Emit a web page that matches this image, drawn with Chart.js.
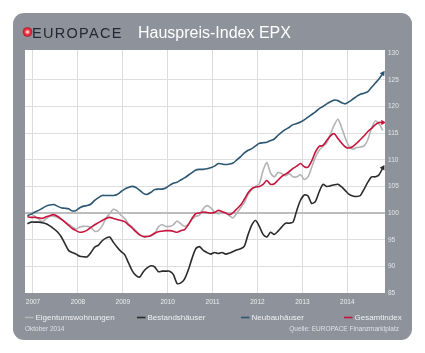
<!DOCTYPE html>
<html>
<head>
<meta charset="utf-8">
<script src="https://cdn.jsdelivr.net/npm/chart.js@4"></script>
<style>
  html, body { margin: 0; padding: 0; background: #fff; }
  canvas { display: block; }
</style>
</head>
<body>
<canvas id="epxChart" width="425" height="353"></canvas>
<script>
// monthly values, Nov 2006 .. Oct 2014
const firstYear = 2006;
const firstMonth = 11;
const monthCount = 96;

const eigentumswohnungen = [
  100.1, 99.8, 99.4, 98.9, 98.4, 98.9, 99.4, 99.4, 99.2, 98.8, 98.4, 97.9,
  97.4, 97.0, 97.4, 97.5, 97.5, 97.3, 96.6, 96.7, 97.6, 99.0, 99.9, 100.7,
  100.4, 99.6, 99.0, 98.0, 97.4, 96.7, 96.0, 95.6, 95.6, 95.7, 96.1, 97.4,
  97.8, 97.5, 97.5, 97.8, 98.5, 98.0, 97.5, 97.9, 98.8, 99.4, 99.6, 100.8,
  101.4, 101.0, 100.2, 99.9, 100.0, 100.0, 99.5, 99.1, 100.0, 101.0, 102.0, 103.5,
  104.4, 105.0, 105.5, 108.0, 109.5, 107.5, 106.8, 107.6, 107.4, 107.0, 107.4, 106.8,
  106.8, 107.2, 106.3, 106.8, 108.6, 110.5, 111.8, 112.5, 113.2, 114.8, 116.5, 117.6,
  116.0, 114.0, 112.5, 112.0, 112.3, 112.4, 112.6, 113.8, 116.0, 117.3, 116.7, 115.5
];

const bestandshaeuser = [
  98.0, 98.3, 98.3, 98.3, 98.2, 98.0, 97.6, 97.1, 96.5, 95.6, 94.3, 93.0,
  92.6, 92.3, 91.9, 91.8, 91.8, 92.6, 93.6, 94.0, 94.8, 95.3, 95.5, 94.5,
  93.6, 92.8, 92.2, 90.7, 89.2, 88.3, 88.0, 89.0, 89.7, 90.1, 89.9, 89.0,
  89.1, 89.1, 89.1, 88.5, 86.8, 86.9, 87.6, 89.3, 91.5, 93.3, 93.7, 93.0,
  92.6, 92.3, 92.6, 92.4, 92.6, 92.3, 92.5, 92.8, 93.1, 93.3, 93.8, 96.0,
  97.8, 98.6, 97.5, 96.0, 95.5, 96.4, 96.0, 96.6, 97.4, 98.1, 98.1, 98.3,
  100.5, 102.4, 103.4, 103.2, 101.8, 102.2, 104.0, 105.4, 105.0, 105.1, 105.3, 105.4,
  104.9, 104.2, 103.5, 103.2, 103.1, 103.3, 104.5, 105.8, 106.8, 106.8, 107.2, 108.5
];

const neubauhaeuser = [
  99.5, 99.8, 100.2, 100.5, 100.9, 101.3, 101.5, 101.6, 101.3, 101.0, 100.9, 100.8,
  100.4, 100.5, 101.0, 101.3, 101.4, 101.7, 102.4, 102.9, 103.3, 103.3, 103.3, 103.3,
  103.5, 104.0, 104.5, 104.8, 105.0, 104.8, 104.3, 103.7, 103.5, 103.9, 104.4, 104.5,
  104.5, 104.7, 105.2, 105.6, 105.8, 106.2, 106.6, 107.1, 107.6, 108.1, 108.2, 108.2,
  108.3, 108.5, 108.8, 109.3, 109.2, 109.1, 109.2, 109.4, 110.0, 110.6, 111.3, 111.8,
  112.1, 112.6, 113.1, 113.2, 113.3, 113.6, 113.9, 114.6, 115.2, 115.7, 116.1, 116.6,
  116.8, 117.1, 117.5, 118.0, 118.5, 119.0, 119.6, 120.0, 120.5, 120.9, 121.2, 121.1,
  120.7, 120.5, 120.9, 121.4, 121.9, 122.3, 122.5, 122.8, 123.6, 124.4, 125.2, 126.2
];

const gesamtindex = [
  99.3, 99.2, 99.2, 99.1, 99.0, 99.3, 99.5, 99.7, 99.4, 98.9, 98.3, 97.7,
  97.1, 96.7, 96.4, 96.5, 96.8, 97.3, 97.8, 98.2, 98.6, 99.0, 99.2, 99.0,
  98.8, 98.6, 98.4, 97.8, 97.2, 96.5, 95.9, 95.6, 95.6, 95.8, 96.2, 96.5,
  96.6, 96.7, 96.7, 96.6, 96.4, 96.7, 96.9, 97.8, 99.0, 99.9, 100.0, 100.2,
  100.1, 100.0, 100.1, 100.5, 100.3, 100.0, 99.7, 100.1, 100.8, 101.5, 102.6, 103.8,
  104.6, 104.9, 105.0, 105.4, 106.1, 105.4, 105.5, 106.2, 106.9, 107.3, 107.8, 108.4,
  108.8, 109.3, 108.7, 108.6, 109.8, 111.5, 112.5, 112.7, 113.6, 114.5, 114.9, 114.0,
  113.1, 112.4, 112.2, 112.5, 113.1, 113.8, 114.5, 115.3, 115.9, 116.6, 117.0, 117.0
];

const yearTicks = [2007, 2008, 2009, 2010, 2011, 2012, 2013, 2014];

// month positions as decimal years (middle of each month)
const monthX = [];
for (let i = 0; i < monthCount; i++) {
  const m = firstMonth - 1 + i;
  monthX.push(firstYear + Math.floor(m / 12) + ((m % 12) + 0.5) / 12);
}

const font = "'Liberation Sans', Arial, sans-serif";
const lastIndex = monthCount - 1;

function toPoints(values) {
  return values.map((v, i) => ({ x: monthX[i], y: v }));
}

function arrowRadius(ctx) {
  return ctx.dataIndex === lastIndex ? 3.2 : 0;
}

const data = {
  datasets: [
    {
      label: "Eigentumswohnungen",
      data: toPoints(eigentumswohnungen),
      borderColor: "#b3b3b3",
      pointRadius: 0,
      order: 4,
    },
    {
      label: "Bestandshäuser",
      data: toPoints(bestandshaeuser),
      borderColor: "#2b2b2d",
      pointBackgroundColor: "#2b2b2d",
      pointRadius: arrowRadius,
      pointRotation: 30,
      order: 3,
    },
    {
      label: "Neubauhäuser",
      data: toPoints(neubauhaeuser),
      borderColor: "#2d5673",
      pointBackgroundColor: "#2d5673",
      pointRadius: arrowRadius,
      pointRotation: 35,
      order: 2,
    },
    {
      label: "Gesamtindex",
      data: toPoints(gesamtindex),
      borderColor: "#c8143c",
      pointBackgroundColor: "#c8143c",
      pointRadius: arrowRadius,
      pointRotation: 90,
      order: 1,
    },
  ],
};

// gray card, logo, title, legend and footnotes
const panelPlugin = {
  id: "panel",
  beforeDraw(chart) {
    const { ctx, chartArea } = chart;
    ctx.save();
    ctx.fillStyle = "#fff";
    ctx.fillRect(0, 0, chart.width, chart.height);

    ctx.fillStyle = "#8e929b";
    ctx.beginPath();
    ctx.roundRect(13, 13, 399, 327, 11);
    ctx.fill();

    ctx.fillStyle = "#fff";
    ctx.fillRect(chartArea.left, chartArea.top,
      chartArea.right - chartArea.left, chartArea.bottom - chartArea.top);

    // logo dot
    const g = ctx.createRadialGradient(27.5, 32, 0.5, 27.5, 32, 5);
    g.addColorStop(0, "#ffe0e0");
    g.addColorStop(0.45, "#ef3a48");
    g.addColorStop(1, "#b50f22");
    ctx.fillStyle = g;
    ctx.beginPath();
    ctx.arc(27.5, 32, 4.8, 0, Math.PI * 2);
    ctx.fill();

    ctx.textBaseline = "alphabetic";
    ctx.textAlign = "left";
    ctx.fillStyle = "#222834";
    ctx.font = "14.5px " + font;
    ctx.letterSpacing = "1.3px";
    ctx.fillText("EUROPACE", 32, 37.5);
    ctx.letterSpacing = "0px";

    ctx.fillStyle = "#ffffff";
    ctx.font = "16px " + font;
    ctx.fillText("Hauspreis-Index EPX", 138, 37.5);

    // legend
    const legendX = [25, 137, 241, 344];
    ctx.font = "8px " + font;
    ctx.textBaseline = "middle";
    chart.data.datasets.forEach((ds, i) => {
      const x = legendX[i];
      ctx.strokeStyle = ds.borderColor;
      ctx.lineWidth = 1.6;
      ctx.beginPath();
      ctx.moveTo(x, 317.5);
      ctx.lineTo(x + 8.5, 317.5);
      ctx.stroke();
      ctx.fillStyle = "#eef0f4";
      ctx.fillText(ds.label, x + 10.5, 317.5);
    });

    ctx.font = "6.5px " + font;
    ctx.fillStyle = "#dde0e6";
    ctx.fillText("Oktober 2014", 25, 329.5);
    ctx.textAlign = "right";
    ctx.fillText("Quelle: EUROPACE Finanzmarktplatz", 399, 329.5);
    ctx.restore();
  },
};

const config = {
  type: "line",
  data,
  options: {
    responsive: false,
    animation: false,
    layout: { padding: { left: 25, top: 50, right: 13, bottom: 45 } },
    plugins: {
      legend: { display: false },
      tooltip: { enabled: false },
    },
    elements: {
      line: { borderWidth: 1.6, tension: 0.25 },
      point: { pointStyle: "triangle", borderWidth: 0, hoverRadius: 0 },
    },
    scales: {
      x: {
        type: "linear",
        min: 2006.822,
        max: 2014.84,
        afterFit(scale) {
          scale.height = 15;
        },
        afterBuildTicks(scale) {
          scale.ticks = yearTicks.map((v) => ({ value: v }));
        },
        border: { display: false },
        grid: { color: "#dcdcdc", lineWidth: 1, drawTicks: false },
        ticks: {
          padding: 5,
          color: "#eceef2",
          font: { size: 6.5, family: font },
          callback: (v) => String(v),
        },
      },
      y: {
        position: "right",
        min: 85,
        max: 130.6,
        afterFit(scale) {
          scale.width = 27;
        },
        border: { display: false },
        grid: {
          drawTicks: false,
          color: (ctx) => {
            const v = ctx.tick && ctx.tick.value;
            if (v === 100) return "#bdbdbd";
            if (v === 85 || v === 130) return "rgba(0,0,0,0)";
            return "#dedede";
          },
          lineWidth: (ctx) => (ctx.tick && ctx.tick.value === 100 ? 2 : 1),
        },
        ticks: {
          stepSize: 5,
          includeBounds: false,
          padding: 3,
          color: "#e4e6eb",
          font: { size: 6.5, family: font },
        },
      },
    },
  },
  plugins: [panelPlugin],
};

new Chart(document.getElementById("epxChart"), config);
</script>
</body>
</html>
